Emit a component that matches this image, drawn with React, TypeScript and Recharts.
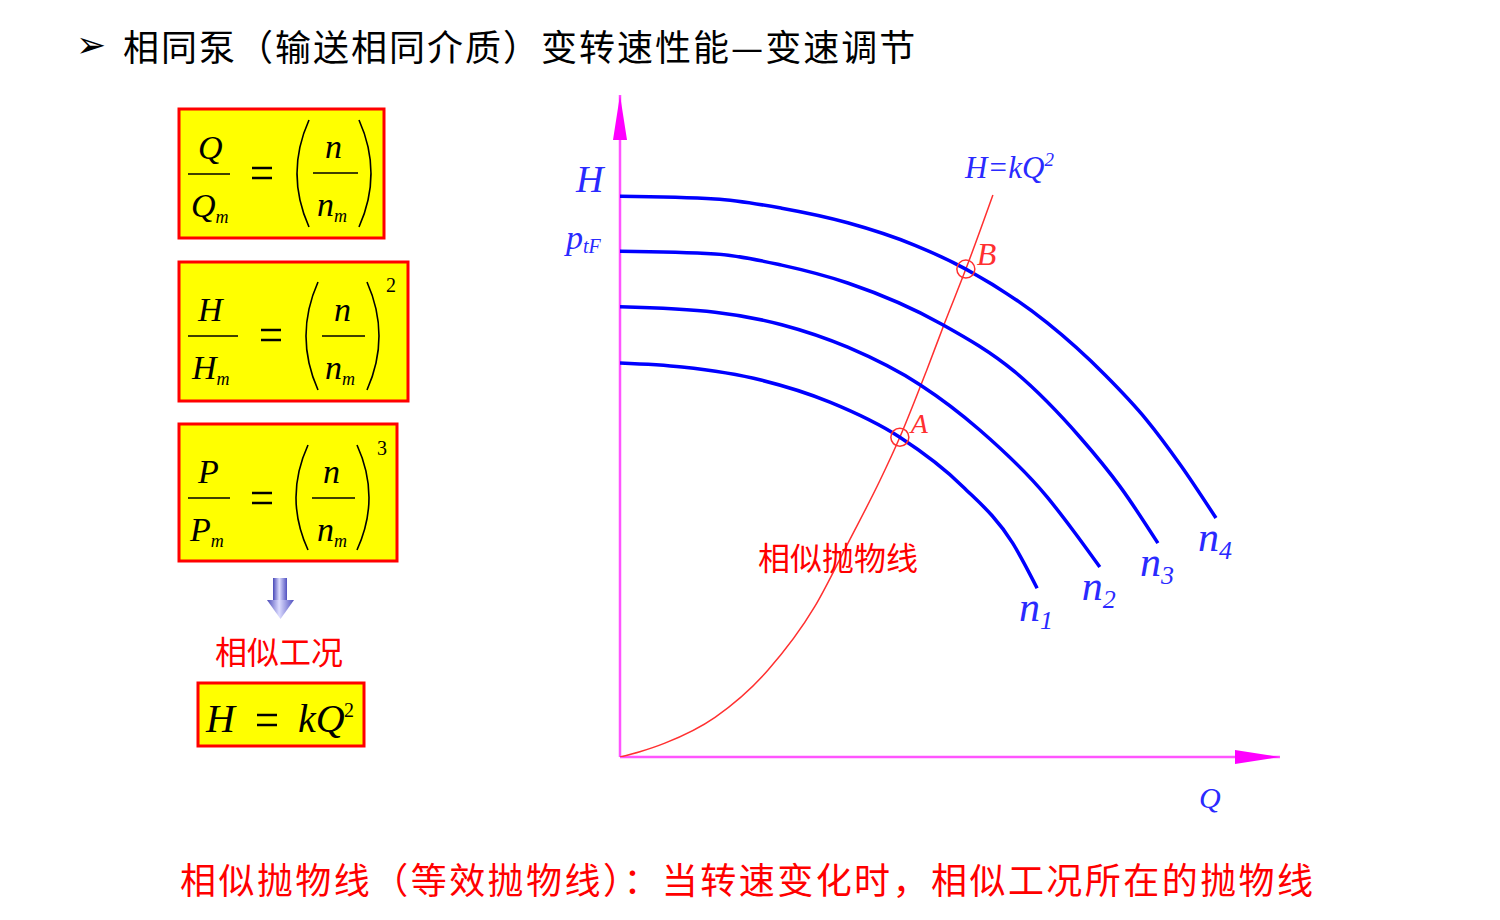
import React from "react";
import { ComposedChart, Line, XAxis, YAxis, ReferenceDot, ReferenceLine } from "recharts";

// pump curves H(Q) at four speeds (Q, H in 0..100 units)
const n1Curve = [
  { q: 0, h: 59.5 }, { q: 9.4, h: 58.9 }, { q: 21.5, h: 56.9 }, { q: 31.8, h: 53.6 },
  { q: 42.4, h: 48.3 }, { q: 52.0, h: 40.8 }, { q: 59.5, h: 32.3 }, { q: 63.2, h: 25.5 },
];
const n2Curve = [
  { q: 0, h: 68.0 }, { q: 14.4, h: 67.2 }, { q: 24.5, h: 65.3 }, { q: 34.5, h: 61.9 },
  { q: 45.5, h: 56.2 }, { q: 54.5, h: 49.4 }, { q: 64.7, h: 39.3 },
  { q: 68.6, h: 34.3 }, { q: 72.7, h: 28.7 },
];
const n3Curve = [
  { q: 0, h: 76.4 }, { q: 14.4, h: 76.0 }, { q: 24.5, h: 74.3 }, { q: 34.5, h: 71.6 },
  { q: 48.9, h: 65.3 }, { q: 59.8, h: 58.2 }, { q: 69.7, h: 48.3 },
  { q: 75.8, h: 40.8 }, { q: 81.5, h: 32.3 },
];
const n4Curve = [
  { q: 0, h: 84.7 }, { q: 14.4, h: 84.3 }, { q: 24.5, h: 82.9 }, { q: 34.5, h: 80.7 },
  { q: 44.7, h: 77.3 }, { q: 52.4, h: 73.7 }, { q: 64.7, h: 65.6 }, { q: 73.5, h: 57.7 },
  { q: 79.8, h: 50.9 }, { q: 85.0, h: 44.0 }, { q: 90.3, h: 36.1 },
];
// similarity parabola H = kQ^2
const parabola = [
  { q: 0, h: 0 }, { q: 3.0, h: 0.8 }, { q: 6.8, h: 2.1 }, { q: 14.4, h: 6.0 }, { q: 22.4, h: 13.1 },
  { q: 29.5, h: 22.7 }, { q: 34.8, h: 32.8 }, { q: 39.4, h: 41.8 }, { q: 42.4, h: 48.3 },
  { q: 46.5, h: 58.5 }, { q: 49.2, h: 65.6 }, { q: 52.4, h: 73.7 }, { q: 56.5, h: 84.9 },
];
const curves = [n1Curve, n2Curve, n3Curve, n4Curve];
const curveSubs = ["1", "2", "3", "4"];
const opPoints = [
  { name: "A", q: 42.4, h: 48.3 },
  { name: "B", q: 52.4, h: 73.7 },
];

const BLUE = "#0000ff";
const LABEL_BLUE = "#2a2aff";
const RED = "#ff3030";
const AXIS = "#ff55ff";
const MATH = "'Liberation Serif', 'DejaVu Serif', serif";
const CJK = "'Noto Sans CJK SC', sans-serif";

const arrowUp = (p: any) => (
  <polygon points={`${p.cx},${p.cy} ${p.cx - 7},${p.cy + 45} ${p.cx + 7},${p.cy + 45}`} fill="#ff00ff" />
);
const arrowRight = (p: any) => (
  <polygon points={`${p.cx},${p.cy} ${p.cx - 45},${p.cy - 7} ${p.cx - 45},${p.cy + 7}`} fill="#ff00ff" />
);

const curveLabel = (sub: string) => (p: any) => (
  <text x={p.cx - 18} y={p.cy + 33} fill={LABEL_BLUE} fontFamily={MATH} fontStyle="italic" fontSize={42}>
    n<tspan fontSize={26} dy={8}>{sub}</tspan>
  </text>
);

const pointMark = (name: string) => (p: any) => (
  <g>
    <circle cx={p.cx} cy={p.cy} r={9} fill="none" stroke={RED} strokeWidth={1.5} />
    <text x={p.cx + 11} y={p.cy - 4} fill={RED} fontFamily={MATH} fontStyle="italic" fontSize={name === "B" ? 32 : 28}>
      {name}
    </text>
  </g>
);

function Frac({ x, y, w, top, bot, topDx = 0, botDx = 0 }: any) {
  // y = fraction bar
  return (
    <g fontFamily={MATH} fontStyle="italic" fill="#000">
      <text x={x + topDx} y={y - 15} fontSize={34}>{top}</text>
      <line x1={x} y1={y} x2={x + w} y2={y} stroke="#000" strokeWidth={1.5} />
      <text x={x + botDx} y={y + 43} fontSize={34}>
        {bot}<tspan fontSize={18} dy={6}>m</tspan>
      </text>
    </g>
  );
}

function Eq({ x, y, w = 20 }: any) {
  return (
    <g stroke="#000" strokeWidth={2.5}>
      <line x1={x} y1={y - 5} x2={x + w} y2={y - 5} />
      <line x1={x} y1={y + 5} x2={x + w} y2={y + 5} />
    </g>
  );
}

function Parens({ l, r, t, b }: any) {
  const m = (t + b) / 2;
  return (
    <g fill="none" stroke="#000" strokeWidth={1.6}>
      <path d={`M ${l + 16} ${t} Q ${l - 8} ${m} ${l + 16} ${b}`} />
      <path d={`M ${r - 16} ${t} Q ${r + 8} ${m} ${r - 16} ${b}`} />
    </g>
  );
}

function Box({ x, y, w, h }: any) {
  return <rect x={x} y={y} width={w} height={h} fill="#ffff00" stroke="#ff0000" strokeWidth={3} />;
}

function Formulas() {
  return (
    <svg width={1500} height={920} style={{ position: "absolute", left: 0, top: 0, pointerEvents: "none" }}>
      <defs>
        <linearGradient id="gArrow" x1="0" y1="0" x2="1" y2="0">
          <stop offset="0%" stopColor="#4848b8" />
          <stop offset="45%" stopColor="#dcdcff" />
          <stop offset="100%" stopColor="#5050c0" />
        </linearGradient>
      </defs>

      <Box x={179} y={109} w={205} h={129} />
      <Frac x={188} y={174} w={42} top="Q" bot="Q" topDx={10} botDx={3} />
      <Eq x={252} y={173} />
      <Parens l={293} r={375} t={120} b={227} />
      <Frac x={313} y={173} w={45} top="n" bot="n" topDx={12} botDx={4} />

      <Box x={179} y={262} w={229} h={139} />
      <Frac x={188} y={336} w={50} top="H" bot="H" topDx={10} botDx={4} />
      <Eq x={261} y={335} />
      <Parens l={302} r={383} t={282} b={390} />
      <Frac x={322} y={336} w={43} top="n" bot="n" topDx={12} botDx={3} />
      <text x={386} y={292} fontFamily={MATH} fontSize={20}>2</text>

      <Box x={179} y={424} w={218} h={137} />
      <Frac x={188} y={498} w={42} top="P" bot="P" topDx={10} botDx={2} />
      <Eq x={252} y={498} />
      <Parens l={292} r={373} t={445} b={550} />
      <Frac x={312} y={498} w={43} top="n" bot="n" topDx={11} botDx={5} />
      <text x={377} y={455} fontFamily={MATH} fontSize={20}>3</text>

      <rect x={273} y={578} width={14} height={23} fill="url(#gArrow)" />
      <polygon points="267,600 294,600 280.5,619" fill="url(#gArrow)" />

      <text x={215} y={664} fill="#ff0000" fontFamily={CJK} fontSize={32}>相似工况</text>

      <Box x={198} y={683} w={166} h={63} />
      <text x={206} y={732} fontFamily={MATH} fontStyle="italic" fontSize={40}>H</text>
      <Eq x={257} y={720} />
      <text x={298} y={732} fontFamily={MATH} fontStyle="italic" fontSize={40}>kQ</text>
      <text x={344} y={717} fontFamily={MATH} fontSize={20}>2</text>

      {/* chart annotations */}
      <text x={576} y={192} fill={LABEL_BLUE} fontFamily={MATH} fontStyle="italic" fontSize={38}>H</text>
      <text x={566} y={249} fill={LABEL_BLUE} fontFamily={MATH} fontStyle="italic" fontSize={34}>
        p<tspan fontSize={20} dy={4}>tF</tspan>
      </text>
      <text x={965} y={178} fill={LABEL_BLUE} fontFamily={MATH} fontStyle="italic" fontSize={31}>
        H=kQ<tspan fontSize={19} dy={-12}>2</tspan>
      </text>
      <text x={1199} y={808} fill={LABEL_BLUE} fontFamily={MATH} fontStyle="italic" fontSize={30}>Q</text>
      <text x={758} y={570} fill="#ff0000" fontFamily={CJK} fontSize={32}>相似抛物线</text>
    </svg>
  );
}

export default function App() {
  return (
    <div style={{ position: "absolute", left: 0, top: 0, width: 1500, height: 920, background: "#fff" }}>
      <div style={{ position: "absolute", left: 76, top: 25, fontFamily: "'DejaVu Sans', sans-serif", fontSize: 36, lineHeight: "40px" }}>
        ➢
      </div>
      <div
        style={{
          position: "absolute", left: 123, top: 26, fontFamily: CJK, fontSize: 36,
          lineHeight: "38px", letterSpacing: 2.0, whiteSpace: "nowrap", color: "#000",
        }}
      >
        相同泵（输送相同介质）变转速性能—变速调节
      </div>

      <ComposedChart
        width={1500}
        height={920}
        margin={{ top: 95, right: 220, bottom: 163, left: 620 }}
        style={{ position: "absolute", left: 0, top: 0 }}
      >
        <XAxis type="number" dataKey="q" domain={[0, 100]} allowDataOverflow hide />
        <YAxis type="number" dataKey="h" domain={[0, 100]} allowDataOverflow hide />
        <ReferenceLine x={0} stroke={AXIS} strokeWidth={2.5} ifOverflow="visible" />
        <ReferenceLine y={0} stroke={AXIS} strokeWidth={2.5} ifOverflow="visible" />
        <Line data={parabola} dataKey="h" type="monotone" stroke={RED} strokeWidth={1.5}
          dot={false} activeDot={false} isAnimationActive={false} />
        {curves.map((c, i) => (
          <Line key={i} data={c} dataKey="h" type="monotone" stroke={BLUE} strokeWidth={3.5}
            dot={false} activeDot={false} isAnimationActive={false} />
        ))}
        {curves.map((c, i) => (
          <ReferenceDot key={"l" + i} x={c[c.length - 1].q} y={c[c.length - 1].h} r={1}
            ifOverflow="visible" shape={curveLabel(curveSubs[i])} />
        ))}
        {opPoints.map((p) => (
          <ReferenceDot key={p.name} x={p.q} y={p.h} r={9} ifOverflow="visible" shape={pointMark(p.name)} />
        ))}
        <ReferenceDot x={0} y={100} r={1} ifOverflow="visible" shape={arrowUp} />
        <ReferenceDot x={100} y={0} r={1} ifOverflow="visible" shape={arrowRight} />
      </ComposedChart>

      <Formulas />

      <div
        style={{
          position: "absolute", left: 180, top: 858, fontFamily: CJK, fontSize: 36,
          lineHeight: "40px", letterSpacing: 2.45, whiteSpace: "nowrap", color: "#ff0000",
        }}
      >
        相似抛物线（等效抛物线）：当转速变化时，相似工况所在的抛物线
      </div>
    </div>
  );
}
